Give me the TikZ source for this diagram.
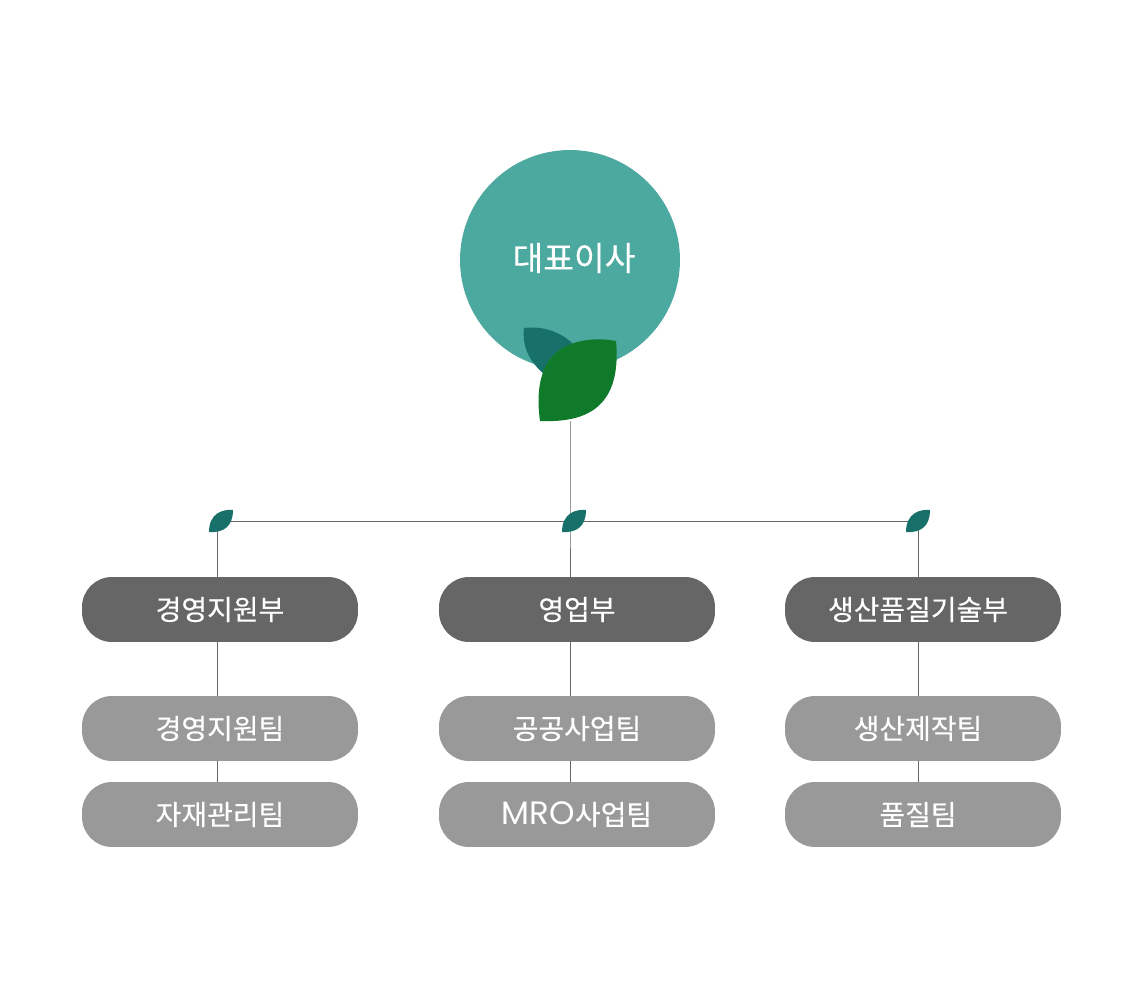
\documentclass[tikz,border=0pt]{standalone}
\usepackage{fontspec}
\setmainfont{Noto Sans CJK KR}[FakeBold=0.35]
\newfontfamily\latinfont{Poppins}[Scale=1.16]
\definecolor{ceoteal}{HTML}{4CA9A0}
\definecolor{leafdark}{HTML}{17716A}
\definecolor{leafgreen}{HTML}{107A2B}
\definecolor{deptgray}{HTML}{666666}
\definecolor{teamgray}{HTML}{999999}
\tikzset{
    orgbox/.style={rectangle, rounded corners=0.6cm, minimum width=5.52cm, minimum height=1.3cm,
        inner sep=0pt, text=white, font=\fontsize{15.9}{18}\selectfont},
    deptbox/.style={orgbox, fill=deptgray},
    teambox/.style={orgbox, fill=teamgray},
    offcentre/.style={execute at end node=\hspace*{5.67pt}},
    linkline/.style={draw=deptgray, line width=0.55pt},
    sprout/.pic={
        \fill[leafdark] (12,-11) .. controls (2,-12) and (-12,-8) .. (-12,11)
            .. controls (2,12) and (12,6) .. (12,-11) -- cycle;
    }
}

\begin{document}
\begin{tikzpicture}[x=0.02cm, y=-0.02cm]
        \useasboundingbox (0,0) rectangle (1140,1000);
        \node[circle, fill=ceoteal, minimum size=4.4cm, inner sep=0pt] (ceo) at (570,260) {};
        \node[text=white, inner sep=0pt, font=\fontsize{19}{22}\selectfont] (ceotext) at (574,258) {대표이사};
        \coordinate (J1) at (217,521);
        \coordinate (J2) at (570,521);
        \coordinate (J3) at (918,521);
        \coordinate (bigleaf) at (570,421);
        \node[deptbox] (dept1) at (220,609.5) {경영지원부};
        \node[deptbox] (dept2) at (577,609.5) {영업부};
        \node[deptbox, offcentre] (dept3) at (923,609.5) {생산품질기술부};
        \node[teambox] (team1a) at (220,728.5) {경영지원팀};
        \node[teambox] (team1b) at (220,814.5) {자재관리팀};
        \node[teambox] (team2a) at (577,728.5) {공공사업팀};
        \node[teambox] (team2b) at (577,814.5) {{\latinfont MRO}사업팀};
        \node[teambox, offcentre] (team3a) at (923,728.5) {생산제작팀};
        \node[teambox, offcentre] (team3b) at (923,814.5) {품질팀};
        \draw[linkline] (bigleaf) -- (J2) -- (dept2.north -| J2);
        \draw[linkline] (J1) -- (J3);
        \draw[linkline] (J1) -- (dept1.north -| J1);
        \draw[linkline] (J3) -- (dept3.north -| J3);
        \draw[linkline] (dept1.south -| J1) -- (team1a.north -| J1);
        \draw[linkline] (team1a.south -| J1) -- (team1b.north -| J1);
        \draw[linkline] (dept2.south -| J2) -- (team2a.north -| J2);
        \draw[linkline] (team2a.south -| J2) -- (team2b.north -| J2);
        \draw[linkline] (dept3.south -| J3) -- (team3a.north -| J3);
        \draw[linkline] (team3a.south -| J3) -- (team3b.north -| J3);
        \fill[leafdark] (524,328) .. controls (540,326) and (558,330) .. (572,343)
            -- (544,374) .. controls (530,362) and (522,348) .. (524,328) -- cycle;
        \fill[leafgreen] (616,341) .. controls (590,336) and (560,342) .. (548,362)
            .. controls (538,378) and (537,400) .. (540,421)
            .. controls (566,422) and (590,418) .. (604,400)
            .. controls (616,385) and (618,362) .. (616,341) -- cycle;
        \pic at (221,521) {sprout};
        \pic at (574,521) {sprout};
        \pic at (918,521) {sprout};
    \end{tikzpicture}
\end{document}
